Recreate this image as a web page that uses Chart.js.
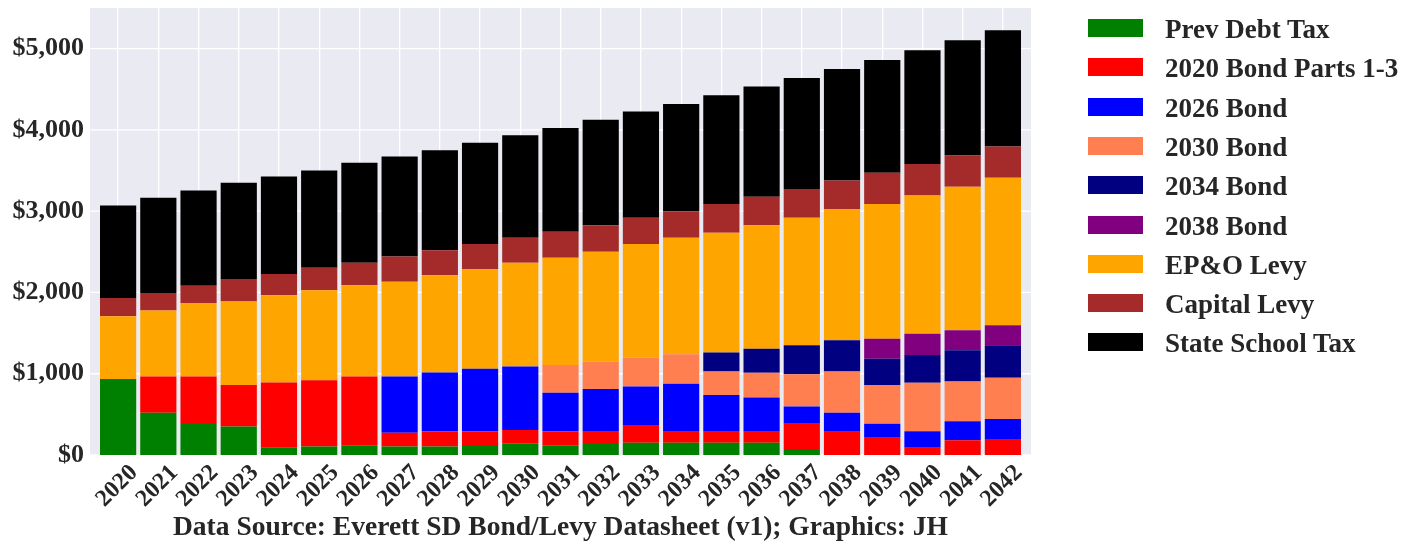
<!DOCTYPE html>
<html><head><meta charset="utf-8">
<script src="https://cdn.jsdelivr.net/npm/chart.js@4/dist/chart.umd.min.js"></script>
<style>
html,body{margin:0;padding:0;background:#fff;}
#wrap{position:relative;width:1419px;height:544px;overflow:hidden;}
#c{position:absolute;left:0;top:0;}
#legend{position:absolute;left:1088px;top:19px;font:bold 27px "Liberation Serif","Times New Roman",serif;color:#262626;}
.item{position:absolute;left:0;height:18px;width:330px;white-space:nowrap;}
.sw{position:absolute;left:0;top:0;width:55px;height:18px;}
.lb{position:absolute;left:77px;top:10px;transform:translateY(-50%);line-height:1;}
</style></head>
<body><div id="wrap"><canvas id="c" width="1419" height="544" style="width:1419px;height:544px"></canvas><div id="legend"></div></div>
<script>
const years = ['2020','2021','2022','2023','2024','2025','2026','2027','2028','2029','2030','2031','2032','2033','2034','2035','2036','2037','2038','2039','2040','2041','2042'];
const prevDebtTax   = [934,520,393,352,94,106,119,106,106,123,139,121,135,152,152,152,152,74,0,0,0,0,0];
const bond2020      = [0,446,573,508,799,815,847,168,185,168,168,168,152,217,135,135,135,311,287,213,90,180,197];
const bond2026      = [0,0,0,0,0,0,0,692,725,770,782,477,524,475,589,450,421,213,233,172,201,234,245];
const bond2030      = [0,0,0,0,0,0,0,0,0,0,0,340,340,352,365,291,303,397,508,475,598,491,508];
const bond2034      = [0,0,0,0,0,0,0,0,0,0,0,0,0,0,0,233,295,356,385,323,340,385,401];
const bond2038      = [0,0,0,0,0,0,0,0,0,0,0,0,0,0,0,0,0,0,0,246,262,246,246];
const epoLevy       = [774,811,905,1028,1073,1106,1122,1167,1195,1228,1278,1320,1351,1400,1433,1474,1520,1569,1613,1659,1703,1765,1814];
const capitalLevy   = [225,217,213,278,262,278,279,308,307,307,307,322,324,324,324,353,352,352,352,385,385,385,385];
const stateSchoolTax= [1138,1171,1172,1184,1200,1196,1228,1232,1233,1245,1261,1275,1298,1306,1322,1339,1355,1368,1372,1388,1401,1416,1429];
const yTicks = [0,1000,2000,3000,4000,5000];

const seriesNames  = ['Prev Debt Tax','2020 Bond Parts 1-3','2026 Bond','2030 Bond','2034 Bond','2038 Bond','EP&O Levy','Capital Levy','State School Tax'];
const seriesValues = [prevDebtTax,bond2020,bond2026,bond2030,bond2034,bond2038,epoLevy,capitalLevy,stateSchoolTax];
const seriesColors = ['#008000','#ff0000','#0000ff','#ff7f50','#000080','#800080','#ffa500','#a52a2a','#000000'];

const FONT = '"Liberation Serif","Times New Roman",serif';
const TXT = '#262626';

const bgPlugin = {
  id: 'bg',
  beforeDraw(chart) {
    const {ctx, chartArea: a, scales} = chart;
    ctx.save();
    ctx.fillStyle = '#eaeaf2';
    ctx.fillRect(a.left - 8, a.top, a.right - a.left + 16, a.bottom - a.top);
    ctx.strokeStyle = '#ffffff';
    ctx.lineWidth = 1.3;
    for (const v of yTicks) {
      const y = scales.y.getPixelForValue(v);
      ctx.beginPath();
      ctx.moveTo(a.left - 8, y);
      ctx.lineTo(a.right + 8, y);
      ctx.stroke();
    }
    ctx.restore();
  }
};

new Chart(document.getElementById('c'), {
  type: 'bar',
  data: {
    labels: years,
    datasets: seriesNames.map((n, i) => ({
      label: n, data: seriesValues[i], backgroundColor: seriesColors[i],
      borderWidth: 0, barPercentage: 0.9, categoryPercentage: 1.0
    }))
  },
  options: {
    responsive: false, animation: false, devicePixelRatio: 1,
    layout: {padding: {left: 0, right: 396, top: 8, bottom: 0}},
    plugins: {legend: {display: false}, tooltip: {enabled: false}, title: {display: false}},
    scales: {
      x: {
        stacked: true, offset: true,
        grid: {display: true, offset: false, color: '#ffffff', lineWidth: 1.3, drawTicks: false},
        border: {display: false},
        ticks: {color: TXT, font: {family: FONT, size: 24, weight: 'bold'}, minRotation: 45, maxRotation: 45, autoSkip: false, padding: 4, labelOffset: 16},
        title: {display: true, text: 'Data Source: Everett SD Bond/Levy Datasheet (v1); Graphics: JH', color: TXT, font: {family: FONT, size: 27.5, weight: 'bold'}, padding: {top: 0, bottom: 0}},
        afterFit: s => { s.height = 89; s.paddingLeft = 0; s.paddingRight = 0; }
      },
      y: {
        stacked: true, min: 0, max: 5500,
        grid: {display: false, drawTicks: false},
        border: {display: false},
        ticks: {color: TXT, font: {family: FONT, size: 26, weight: 'bold'}, padding: 14, autoSkip: false,
          callback: v => '$' + Number(v).toLocaleString('en-US')},
        afterBuildTicks: s => { s.ticks = yTicks.map(v => ({value: v})); },
        afterFit: s => { s.width = 98; s.paddingTop = 0; s.paddingBottom = 0; }
      }
    }
  },
  plugins: [bgPlugin]
});

const lg = document.getElementById('legend');
seriesNames.forEach((n, i) => {
  const d = document.createElement('div');
  d.className = 'item';
  d.style.top = (i * 39.3) + 'px';
  const sw = document.createElement('div');
  sw.className = 'sw'; sw.style.background = seriesColors[i];
  const lb = document.createElement('span');
  lb.className = 'lb'; lb.textContent = n;
  d.appendChild(sw); d.appendChild(lb);
  lg.appendChild(d);
});
</script>
</body></html>
